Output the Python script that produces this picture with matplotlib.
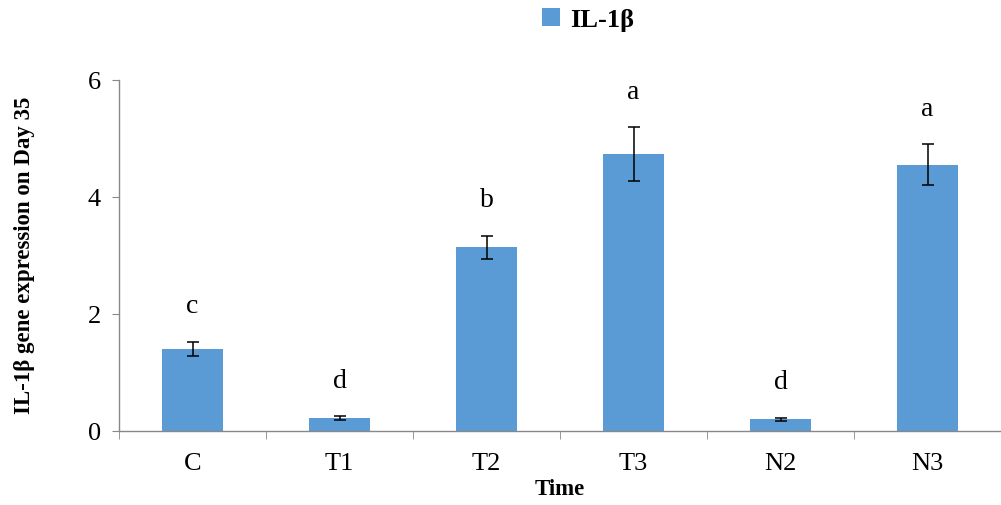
import matplotlib.pyplot as plt
import numpy as np

groups = ['C', 'T1', 'T2', 'T3', 'N2', 'N3']
values = [1.41, 0.22, 3.14, 4.74, 0.20, 4.55]
errors = [0.12, 0.03, 0.20, 0.46, 0.03, 0.35]
letters = ['c', 'd', 'b', 'a', 'd', 'a']

plt.rcParams['font.family'] = ['Liberation Serif', 'DejaVu Serif']

fig = plt.figure(figsize=(10.01, 5.05), dpi=100)
ax = fig.add_axes([0.119, 0.1465, 0.881, 0.695])

x = np.arange(len(groups))
bars = ax.bar(x, values, width=0.41, color='#5B9BD5', label='IL-1β', zorder=2)
ax.errorbar(x, values, yerr=errors, fmt='none', ecolor='black', elinewidth=1.1,
            capsize=4, capthick=1.1, zorder=3)

# significance letters above the error bars
for xi, v, e, t in zip(x, values, errors, letters):
    ax.annotate(t, (xi, v + e), xytext=(0, 25), textcoords='offset points',
                ha='center', va='center', fontsize=20)

ax.set_xlim(-0.5, len(groups) - 0.5)
ax.set_ylim(0, 6)
ax.set_yticks([0, 2, 4, 6])
ax.set_xticks(x)
ax.set_xticklabels(groups)
ax.set_xticks(np.arange(len(groups) + 1) - 0.5, minor=True)
ax.tick_params(axis='x', which='major', length=0, pad=16, labelsize=19)
ax.tick_params(axis='x', which='minor', length=6, color='#888888', direction='out')
ax.tick_params(axis='y', length=5, color='#888888', labelsize=19, pad=8)

for s in ['top', 'right']:
    ax.spines[s].set_visible(False)
for s in ['left', 'bottom']:
    ax.spines[s].set_color('#888888')
    ax.spines[s].set_linewidth(1.0)

ax.set_xlabel('Time', fontsize=16.5, fontweight='bold', labelpad=3)
ax.set_ylabel('IL-1β gene expression on Day 35', fontsize=16.5, fontweight='bold', labelpad=38)

leg = ax.legend(loc='center', bbox_to_anchor=(0.532, 1.171), frameon=False,
                handlelength=0.65, handleheight=0.65, handletextpad=0.4,
                prop={'weight': 'bold', 'size': 19})

fig.savefig('out.png', dpi=100)
